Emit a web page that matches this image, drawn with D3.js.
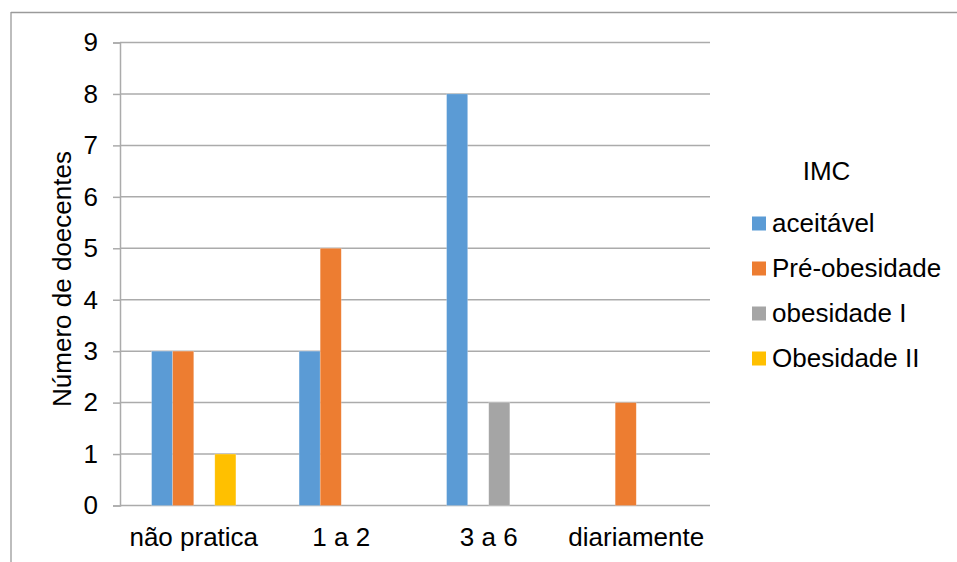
<!DOCTYPE html>
<html>
<head>
<meta charset="utf-8">
<script src="https://cdn.jsdelivr.net/npm/d3@7"></script>
<style>
  html, body { margin: 0; padding: 0; background: #fff; }
  svg { display: block; font-family: "Liberation Sans", Arial, sans-serif; }
</style>
</head>
<body>
<svg id="chart" width="957" height="562"></svg>
<script>
// Physical activity frequency (categories) by BMI class (series)
const categories = ["não pratica", "1 a 2", "3 a 6", "diariamente"];
const seriesNames = ["aceitável", "Pré-obesidade", "obesidade I", "Obesidade II"];
const aceitavel    = [3, 3, 8, 0];
const preObesidade = [3, 5, 0, 2];
const obesidadeI   = [0, 0, 2, 0];
const obesidadeII  = [1, 0, 0, 0];
const yTicks = [0, 1, 2, 3, 4, 5, 6, 7, 8, 9];
const colors = ["#5b9bd5", "#ed7d31", "#a5a5a5", "#ffc000"];
const yTitle = "Número de doecentes";
const legendTitle = "IMC";

const seriesValues = [aceitavel, preObesidade, obesidadeI, obesidadeII];
const rows = categories.map((c, i) => ({
  cat: c,
  vals: seriesNames.map((s, j) => ({ key: s, value: seriesValues[j][i], idx: j }))
}));

const svg = d3.select("#chart");
const fontSize = 26;

// chart frame (top and left edges)
svg.append("line").attr("x1", 11).attr("x2", 957).attr("y1", 12.5).attr("y2", 12.5)
  .attr("stroke", "#9a9a9a").attr("stroke-width", 1.3);
svg.append("line").attr("x1", 11).attr("x2", 11).attr("y1", 12).attr("y2", 562)
  .attr("stroke", "#9a9a9a").attr("stroke-width", 1.3);

const plot = { left: 120, right: 710, top: 42.5, bottom: 505.5 };

const x0 = d3.scaleBand().domain(categories).range([plot.left, plot.right]).padding(0);
const x1 = d3.scaleBand().domain(seriesNames).range([0, x0.bandwidth()])
  .paddingInner(0).paddingOuter(1.5);
const y = d3.scaleLinear().domain([0, 9]).range([plot.bottom, plot.top]);

// horizontal gridlines
svg.append("g").selectAll("line").data(yTicks).join("line")
  .attr("x1", plot.left).attr("x2", plot.right)
  .attr("y1", d => y(d)).attr("y2", d => y(d))
  .attr("stroke", "#ababab").attr("stroke-width", 1.5);

// y axis
const yAxis = svg.append("g")
  .attr("transform", `translate(${plot.left},0)`)
  .call(d3.axisLeft(y).tickValues(yTicks).tickSize(7).tickPadding(15).tickFormat(d3.format("d")));
yAxis.select(".domain").attr("stroke", "#ababab").attr("stroke-width", 1.5);
yAxis.selectAll(".tick line").attr("stroke", "#ababab").attr("stroke-width", 1.5);
yAxis.selectAll(".tick text").attr("font-size", fontSize).attr("fill", "#000")
  .attr("font-family", "Liberation Sans, Arial, sans-serif");

// bars
const groups = svg.append("g").selectAll("g").data(rows).join("g")
  .attr("transform", d => `translate(${x0(d.cat)},0)`);
groups.selectAll("rect").data(d => d.vals.filter(v => v.value > 0)).join("rect")
  .attr("x", d => x1(d.key))
  .attr("width", x1.bandwidth())
  .attr("y", d => y(d.value))
  .attr("height", d => y(0) - y(d.value))
  .attr("fill", d => colors[d.idx])
  .attr("stroke", "#ffffff").attr("stroke-opacity", 0.35).attr("stroke-width", 0.6);

// category labels
svg.append("g").selectAll("text").data(categories).join("text")
  .attr("x", d => x0(d) + x0.bandwidth() / 2)
  .attr("y", 546)
  .attr("text-anchor", "middle")
  .attr("font-size", fontSize)
  .attr("fill", "#000")
  .text(d => d);

// y axis title
svg.append("text")
  .attr("transform", "translate(71,279) rotate(-90)")
  .attr("text-anchor", "middle")
  .attr("font-size", fontSize)
  .attr("fill", "#000")
  .text(yTitle);

// legend
const legend = svg.append("g");
legend.append("text")
  .attr("x", 826.5).attr("y", 180)
  .attr("text-anchor", "middle")
  .attr("font-size", fontSize)
  .attr("fill", "#000")
  .text(legendTitle);
const legendY = d3.scalePoint().domain(seriesNames).range([223.5, 358.5]);
const items = legend.selectAll("g.item").data(seriesNames).join("g").attr("class", "item")
  .attr("transform", d => `translate(752,${legendY(d)})`);
items.append("rect")
  .attr("x", 0).attr("y", -7).attr("width", 14).attr("height", 14)
  .attr("fill", (d, i) => colors[i]);
items.append("text")
  .attr("x", 20).attr("y", 8.5)
  .attr("font-size", fontSize)
  .attr("fill", "#000")
  .text(d => d);
</script>
</body>
</html>
